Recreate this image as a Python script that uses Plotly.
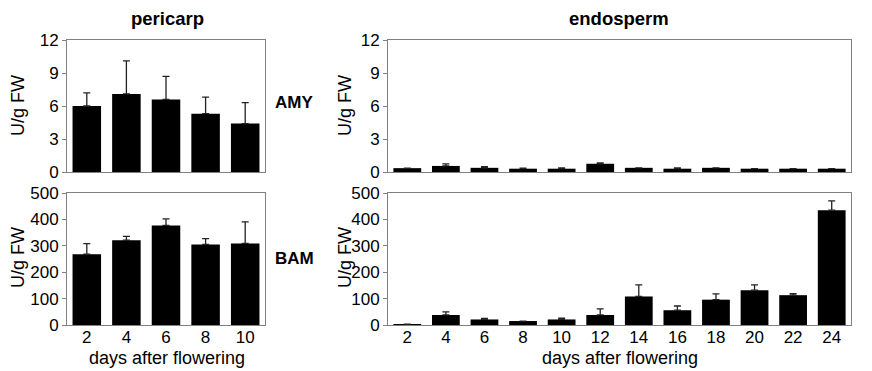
import plotly.graph_objects as go

# ---- data ----
peri_days = ["2", "4", "6", "8", "10"]
peri_amy = [6.0, 7.1, 6.6, 5.3, 4.4]
peri_amy_err = [1.2, 3.0, 2.1, 1.5, 1.9]
peri_bam = [268, 321, 377, 305, 309]
peri_bam_err = [40, 15, 25, 22, 82]

endo_days = ["2", "4", "6", "8", "10", "12", "14", "16", "18", "20", "22", "24"]
endo_amy = [0.35, 0.55, 0.38, 0.3, 0.3, 0.75, 0.38, 0.3, 0.38, 0.3, 0.3, 0.3]
endo_amy_err = [0.0, 0.18, 0.1, 0.05, 0.07, 0.08, 0.0, 0.07, 0.0, 0.0, 0.0, 0.0]
endo_bam = [1, 38, 21, 15, 21, 38, 108, 56, 96, 132, 113, 435]
endo_bam_err = [2, 12, 4, 0, 5, 23, 44, 16, 22, 20, 6, 35]

amy_ticks = [0, 3, 6, 9, 12]
bam_ticks = [0, 100, 200, 300, 400, 500]

# page body has an 8px margin: figure is drawn offset by 8px
OFF = 8
W, H = 872 - OFF, 371 - OFF
FONT = "Liberation Sans, Arial, sans-serif"
GREY = "#808080"
TICK = 17
TITLE = 18


def px(x):
    return (x - OFF) / W


def py(y):
    return 1 - (y - OFF) / H


def bar(x, y, err, xa, ya):
    return go.Bar(
        x=x, y=y, xaxis=xa, yaxis=ya,
        marker=dict(color="black", line=dict(width=0)),
        error_y=dict(type="data", array=err, arrayminus=[0] * len(err),
                     symmetric=False, color="#222", thickness=1.3, width=3.5),
        showlegend=False,
    )


fig = go.Figure()
fig.add_trace(bar(peri_days, peri_amy, peri_amy_err, "x", "y"))
fig.add_trace(bar(peri_days, peri_bam, peri_bam_err, "x2", "y2"))
fig.add_trace(bar(endo_days, endo_amy, endo_amy_err, "x3", "y3"))
fig.add_trace(bar(endo_days, endo_bam, endo_bam_err, "x4", "y4"))

peri_x = [px(67), px(265)]
endo_x = [px(388), px(851)]
amy_y = [py(172), py(40)]
bam_y = [py(325), py(193)]

xcommon = dict(showline=True, linecolor=GREY, linewidth=1, mirror=True, automargin=False,
               ticks="", showgrid=False, zeroline=False, ticklabelstandoff=-3,
               tickfont=dict(family=FONT, size=TICK, color="black"), type="category")
ycommon = dict(showline=True, linecolor=GREY, linewidth=1, mirror=True, automargin=False,
               ticks="outside", ticklen=4, tickcolor=GREY, showgrid=False, zeroline=False,
               tickfont=dict(family=FONT, size=TICK, color="black"))

fig.update_layout(
    template="none",
    width=W, height=H,
    margin=dict(l=0, r=0, t=0, b=0),
    paper_bgcolor="white", plot_bgcolor="white",
    bargap=0.28,
    xaxis=dict(xcommon, domain=peri_x, anchor="y", showticklabels=False),
    yaxis=dict(ycommon, domain=amy_y, anchor="x", range=[0, 12], tickvals=amy_ticks),
    xaxis2=dict(xcommon, domain=peri_x, anchor="y2"),
    yaxis2=dict(ycommon, domain=bam_y, anchor="x2", range=[0, 500], tickvals=bam_ticks),
    xaxis3=dict(xcommon, domain=endo_x, anchor="y3", showticklabels=False),
    yaxis3=dict(ycommon, domain=amy_y, anchor="x3", range=[0, 12], tickvals=amy_ticks),
    xaxis4=dict(xcommon, domain=endo_x, anchor="y4"),
    yaxis4=dict(ycommon, domain=bam_y, anchor="x4", range=[0, 500], tickvals=bam_ticks),
)

ann = [
    ("<b>pericarp</b>", 167, 19, 18.5, 0),
    ("<b>endosperm</b>", 619, 19, 18.5, 0),
    ("<b>AMY</b>", 294, 103, 17, 0),
    ("<b>BAM</b>", 294, 258, 17, 0),
    ("U/g FW", 18, 106, TITLE, -90),
    ("U/g FW", 18, 258, TITLE, -90),
    ("U/g FW", 345, 106, TITLE, -90),
    ("U/g FW", 345, 258, TITLE, -90),
    ("days after flowering", 167, 358, TITLE, 0),
    ("days after flowering", 620, 358, TITLE, 0),
]
for text, x, y, s, ang in ann:
    fig.add_annotation(text=text, x=px(x), y=py(y), xref="paper", yref="paper",
                       showarrow=False, xanchor="center", yanchor="middle", textangle=ang,
                       font=dict(family=FONT, size=s, color="black"))

fig.write_html("out.html")
